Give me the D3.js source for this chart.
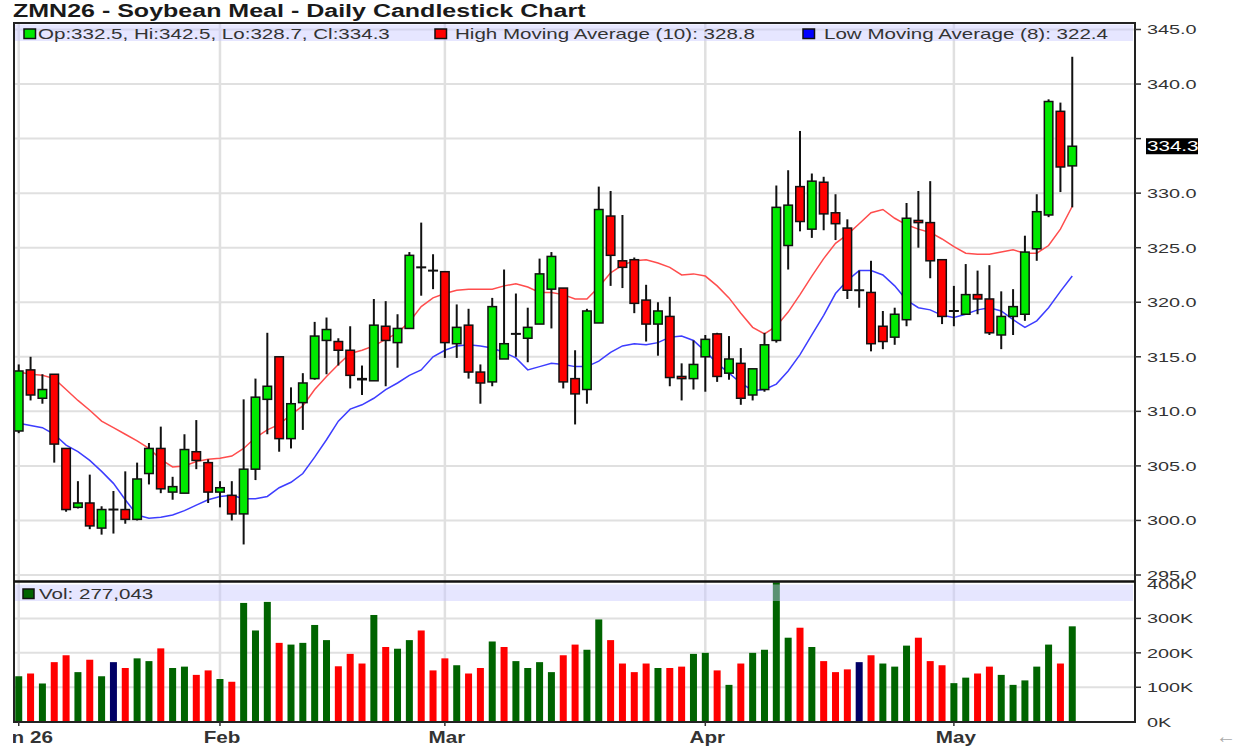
<!DOCTYPE html>
<html>
<head>
<meta charset="utf-8">
<script src="https://cdn.jsdelivr.net/npm/d3@7"></script>
<style>
  body { margin: 0; background: #fff; }
  svg  { display: block; font-family: "Liberation Sans", Arial, sans-serif; }
</style>
</head>
<body>
<div id="chart"></div>
<script>

// ---- data ---------------------------------------------------------------

var title = "ZMN26 - Soybean Meal - Daily Candlestick Chart";

var dates = [
  "2026-01-07","2026-01-08","2026-01-09","2026-01-12","2026-01-13","2026-01-14","2026-01-15","2026-01-16",
  "2026-01-20","2026-01-21","2026-01-22","2026-01-23","2026-01-26","2026-01-27","2026-01-28","2026-01-29","2026-01-30",
  "2026-02-02","2026-02-03","2026-02-04","2026-02-05","2026-02-06","2026-02-09","2026-02-10","2026-02-11","2026-02-12",
  "2026-02-13","2026-02-17","2026-02-18","2026-02-19","2026-02-20","2026-02-23","2026-02-24","2026-02-25","2026-02-26","2026-02-27",
  "2026-03-02","2026-03-03","2026-03-04","2026-03-05","2026-03-06","2026-03-09","2026-03-10","2026-03-11","2026-03-12","2026-03-13",
  "2026-03-16","2026-03-17","2026-03-18","2026-03-19","2026-03-20","2026-03-23","2026-03-24","2026-03-25","2026-03-26","2026-03-27",
  "2026-03-30","2026-03-31",
  "2026-04-01","2026-04-02","2026-04-06","2026-04-07","2026-04-08","2026-04-09","2026-04-10","2026-04-13","2026-04-14","2026-04-15",
  "2026-04-16","2026-04-17","2026-04-20","2026-04-21","2026-04-22","2026-04-23","2026-04-24","2026-04-27","2026-04-28","2026-04-29","2026-04-30",
  "2026-05-01","2026-05-04","2026-05-05","2026-05-06","2026-05-07","2026-05-08","2026-05-11","2026-05-12","2026-05-13","2026-05-14","2026-05-15"
];

var opens = [
  308.2,313.8,311.2,313.4,306.6,301.2,301.6,299.3,301.0,301.0,300.1,304.3,306.6,302.6,302.5,306.3,305.3,
  302.6,302.3,300.6,304.7,311.1,315.0,307.5,310.8,313.0,316.5,316.4,315.6,313.0,312.8,317.8,316.3,317.6,323.2,322.9,
  322.8,316.2,317.9,313.6,312.7,314.8,317.1,316.7,318.0,321.2,321.3,313.0,312.0,318.1,327.9,323.8,323.9,320.2,318.0,318.7,313.2,313.0,
  315.0,317.1,313.5,314.4,311.5,312.0,316.5,325.2,330.6,326.7,331.0,328.2,326.8,321.1,320.9,317.8,316.8,318.4,327.5,327.3,323.9,
  319.2,318.9,320.7,320.3,317.0,318.7,318.9,324.9,328.0,337.5,332.5
];
var highs = [
  314.3,315.0,313.4,313.4,306.6,303.6,304.2,301.3,302.7,304.5,305.3,307.1,308.6,304.0,307.9,309.2,305.6,
  303.6,303.6,311.1,313.0,317.2,315.0,312.2,313.5,318.2,318.6,316.7,317.8,314.2,320.3,320.1,318.9,324.6,327.3,324.4,
  322.8,319.8,319.4,314.3,320.4,323.0,320.8,319.5,324.0,324.6,321.3,315.6,319.4,330.6,330.2,328.0,324.1,321.6,320.0,320.5,314.4,316.5,
  317.0,317.2,316.9,315.8,313.9,317.2,330.7,332.1,335.7,331.8,331.5,329.9,327.6,322.9,323.8,319.2,319.5,329.1,330.2,331.1,323.9,
  321.5,323.5,322.9,323.4,321.0,321.2,326.1,329.9,338.6,338.3,342.5
];
var lows = [
  308.0,311.0,310.7,305.3,300.8,301.1,299.2,298.7,298.8,299.7,300.0,303.3,302.5,301.9,302.5,304.7,301.6,
  301.2,300.0,297.8,303.7,307.9,306.3,306.6,308.3,312.9,313.4,314.2,312.1,311.5,312.8,312.3,314.0,317.6,320.6,321.2,
  314.9,314.9,313.0,310.7,312.3,314.8,315.0,314.5,318.0,317.6,312.1,308.8,310.7,318.1,321.5,321.3,319.0,316.4,315.1,312.3,311.0,312.0,
  311.8,312.7,312.9,310.6,311.0,311.8,316.3,323.0,326.5,325.9,326.6,325.7,320.3,319.5,315.5,315.7,316.1,317.8,325.0,322.2,318.0,
  317.8,318.9,318.9,317.0,315.7,317.0,318.3,323.8,327.8,330.1,328.7
];
var closes = [
  313.7,311.5,312.0,307.0,301.0,301.6,299.5,301.0,301.0,300.1,303.8,306.6,302.9,303.1,306.5,305.5,302.6,
  303.0,300.6,304.7,311.3,312.3,307.5,310.7,312.6,316.9,317.5,315.6,313.3,312.9,317.9,316.5,317.6,324.3,323.2,322.9,
  316.3,317.7,313.6,312.6,319.6,316.2,317.1,317.7,322.6,324.2,312.7,311.6,319.2,328.5,324.3,323.2,319.9,318.0,319.2,313.1,313.0,314.3,
  316.6,313.2,314.8,311.2,313.9,316.1,328.7,328.9,327.4,331.1,328.1,327.2,321.1,321.1,316.2,316.4,318.9,327.7,327.3,323.8,318.7,
  319.2,320.7,320.3,317.2,318.7,319.6,324.6,328.3,338.4,332.4,334.3
];
// settlement of the session before the first bar (colours the first volume bar)
var priorClose = 312.9;

var volumes = [
  132000,140000,111000,173000,193000,144000,180000,132000,173000,156000,184000,176000,213000,156000,160000,136000,149000,
  124000,116000,345000,265000,348000,229000,224000,229000,281000,237000,161000,197000,169000,310000,217000,212000,237000,265000,149000,
  184000,164000,140000,156000,233000,217000,176000,156000,173000,144000,193000,224000,209000,297000,237000,169000,144000,169000,156000,156000,160000,197000,
  200000,149000,107000,169000,200000,209000,405000,244000,273000,217000,176000,144000,152000,173000,193000,169000,160000,221000,244000,176000,164000,
  112000,128000,140000,160000,136000,107000,120000,160000,224000,169000,277043
];

// High Moving Average (10) and Low Moving Average (8), as drawn
var highMA = [
  313.6,313.4,313.3,313.0,312.0,311.0,310.1,309.1,308.5,307.9,307.3,306.6,305.6,304.9,305.0,305.4,305.6,
  305.7,305.9,306.6,307.6,308.3,308.8,309.7,310.5,312.0,313.2,314.3,315.3,315.6,316.0,316.6,317.2,318.2,319.6,320.4,
  320.8,321.1,321.2,321.2,321.2,321.5,321.7,321.4,320.9,320.9,320.7,320.3,320.3,321.4,322.7,323.4,323.8,323.9,323.6,323.2,322.5,322.6,
  322.4,321.5,320.4,319.0,317.7,317.1,317.8,319.1,320.7,322.4,324.0,325.4,326.2,327.2,328.2,328.5,327.7,327.1,326.7,326.4,325.8,
  325.1,324.5,324.4,324.4,324.6,324.8,324.5,324.5,325.2,326.7,328.8
];
var lowMA = [
  308.9,308.7,308.5,307.9,306.9,306.3,305.5,304.5,303.4,301.9,300.5,300.2,300.3,300.5,300.9,301.4,301.9,
  302.2,302.3,302.0,302.0,302.2,303.0,303.5,304.3,305.8,307.4,309.1,310.2,310.6,311.2,312.0,312.6,313.3,313.8,315.0,
  315.6,316.0,316.1,316.0,315.8,315.4,314.9,313.8,314.1,314.4,314.3,314.1,314.1,314.6,315.4,316.0,316.2,316.1,316.3,316.8,316.9,316.5,
  315.5,314.4,313.5,312.6,311.9,312.0,312.5,313.7,315.2,317.0,318.8,320.8,322.0,322.9,322.9,322.5,321.5,320.2,319.5,319.3,318.8,
  318.6,318.9,319.3,319.5,319.2,318.4,317.7,318.3,319.5,321.0,322.4
];

var priceTicks  = [295, 300, 305, 310, 315, 320, 325, 330, 335, 340, 345];
var volumeTicks = [0, 100000, 200000, 300000, 400000];
var monthLabels = ["Jan 26", "Feb", "Mar", "Apr", "May"];


// ---- layout ---------------------------------------------------------------

var W = 1237, H = 749;
var plotL = 14, plotR = 1135;
var plotT = 23, priceB = 581, volT = 582, volB = 722;

var GREEN = "#00e800", RED = "#ff0000";
var VOL_UP = "#006400", VOL_DN = "#ff0000", VOL_EQ = "#000066";
var GRID = "#e0e0e0", INK = "#333";

// the reference is a horizontally stretched screenshot, so text is widened
var TITLE_SX = 1.39, LEGEND_SX = 1.37, AXIS_SX = 1.47, XLAB_SX = 1.29;

var n = dates.length;
var idx = d3.range(n);

var x = d3.scaleLinear().domain([-0.4, 94.3]).range([plotL, plotR]);
var yPrice = d3.scaleLinear().domain([295, 345]).range([575, 29.5]);
var yVol = d3.scaleLinear().domain([0, 400000]).range([721.7, 584]);
var fmtPrice = d3.format(".1f");

// first bar of each month carries a tick
var monthStarts = idx.filter(function(i) {
    return i === 0 || dates[i].slice(5, 7) !== dates[i - 1].slice(5, 7);
});

var svg = d3.select("#chart").append("svg")
    .attr("width", W)
    .attr("height", H);

svg.append("rect").attr("width", W).attr("height", H).attr("fill", "#fff");

var defs = svg.append("defs");
defs.append("clipPath").attr("id", "clipPrice").append("rect")
    .attr("x", plotL).attr("y", plotT).attr("width", plotR - plotL).attr("height", priceB - plotT);
defs.append("clipPath").attr("id", "clipVol").append("rect")
    .attr("x", plotL).attr("y", volT).attr("width", plotR - plotL).attr("height", volB - volT);
defs.append("clipPath").attr("id", "clipXLab").append("rect")
    .attr("x", plotL - 1).attr("y", volB).attr("width", W).attr("height", H - volB);

// stretched text helper
function label(g, px, py, str, sx, size, opts) {
    opts = opts || {};
    return g.append("text")
        .attr("transform", "translate(" + px + "," + py + ") scale(" + sx + ",1)")
        .attr("font-size", size)
        .attr("font-weight", opts.bold ? "bold" : "normal")
        .attr("text-anchor", opts.anchor || "start")
        .attr("fill", opts.fill || INK)
        .text(str);
}

// ---- grid -----------------------------------------------------------------

svg.append("g").selectAll("line").data(priceTicks).join("line")
    .attr("x1", plotL).attr("x2", plotR)
    .attr("y1", function(d) { return yPrice(d); })
    .attr("y2", function(d) { return yPrice(d); })
    .attr("stroke", GRID).attr("stroke-width", 2);

svg.append("g").selectAll("line").data(volumeTicks.slice(1, 4)).join("line")
    .attr("x1", plotL).attr("x2", plotR)
    .attr("y1", function(d) { return yVol(d); })
    .attr("y2", function(d) { return yVol(d); })
    .attr("stroke", GRID).attr("stroke-width", 2);

svg.append("g").selectAll("line").data(monthStarts).join("line")
    .attr("x1", function(i) { return x(i); })
    .attr("x2", function(i) { return x(i); })
    .attr("y1", plotT).attr("y2", volB)
    .attr("stroke", GRID).attr("stroke-width", 2.5);

// ---- price panel ------------------------------------------------------------

var pricePanel = svg.append("g").attr("clip-path", "url(#clipPrice)");

var maLine = d3.line()
    .x(function(d, i) { return x(i); })
    .y(function(d) { return yPrice(d); });

pricePanel.append("path").datum(highMA)
    .attr("d", maLine).attr("fill", "none")
    .attr("stroke", "#ff4d4d").attr("stroke-width", 1.5);

pricePanel.append("path").datum(lowMA)
    .attr("d", maLine).attr("fill", "none")
    .attr("stroke", "#3d3dff").attr("stroke-width", 1.5);

var candles = pricePanel.append("g").selectAll("g").data(idx).join("g");

candles.append("line")
    .attr("x1", function(i) { return x(i); })
    .attr("x2", function(i) { return x(i); })
    .attr("y1", function(i) { return yPrice(highs[i]); })
    .attr("y2", function(i) { return yPrice(lows[i]); })
    .attr("stroke", "#111").attr("stroke-width", 2);

var bodyW = 8.5;

candles.filter(function(i) { return opens[i] !== closes[i]; })
    .append("rect")
    .attr("x", function(i) { return x(i) - bodyW / 2; })
    .attr("width", bodyW)
    .attr("y", function(i) { return yPrice(Math.max(opens[i], closes[i])); })
    .attr("height", function(i) {
        return Math.max(1, Math.abs(yPrice(opens[i]) - yPrice(closes[i])));
    })
    .attr("fill", function(i) { return closes[i] > opens[i] ? GREEN : RED; })
    .attr("stroke", "#111").attr("stroke-width", 1.5);

// doji: open equals close
candles.filter(function(i) { return opens[i] === closes[i]; })
    .append("line")
    .attr("x1", function(i) { return x(i) - bodyW / 2 - 0.75; })
    .attr("x2", function(i) { return x(i) + bodyW / 2 + 0.75; })
    .attr("y1", function(i) { return yPrice(closes[i]); })
    .attr("y2", function(i) { return yPrice(closes[i]); })
    .attr("stroke", "#111").attr("stroke-width", 2);

// ---- volume panel -----------------------------------------------------------

var volPanel = svg.append("g").attr("clip-path", "url(#clipVol)");

function volColor(i) {
    var prev = i === 0 ? priorClose : closes[i - 1];
    if (closes[i] > prev) return VOL_UP;
    if (closes[i] < prev) return VOL_DN;
    return VOL_EQ;
}

var volW = 7;
volPanel.append("g").selectAll("rect").data(idx).join("rect")
    .attr("x", function(i) { return x(i) - volW / 2; })
    .attr("width", volW)
    .attr("y", function(i) { return yVol(volumes[i]); })
    .attr("height", function(i) { return yVol(0) - yVol(volumes[i]); })
    .attr("fill", volColor);

// ---- legends (translucent bands over the plot) --------------------------------

var last = n - 1;

svg.append("rect")
    .attr("x", plotL + 1).attr("y", 24.5).attr("width", 1118).attr("height", 16.5)
    .attr("fill", "rgb(200,200,255)").attr("fill-opacity", 0.45);

svg.append("rect")
    .attr("x", plotL + 1).attr("y", 584.5).attr("width", 1118).attr("height", 16.5)
    .attr("fill", "rgb(200,200,255)").attr("fill-opacity", 0.45);

var legend = svg.append("g");

var legendItems = [
    { box: GREEN, bx: 24, tx: 38,
      text: "Op:" + fmtPrice(opens[last]) + ", Hi:" + fmtPrice(highs[last]) +
            ", Lo:" + fmtPrice(lows[last]) + ", Cl:" + fmtPrice(closes[last]) },
    { box: RED, bx: 435, tx: 455,
      text: "High Moving Average (10): " + fmtPrice(highMA[last]) },
    { box: "#0000ff", bx: 803, tx: 824,
      text: "Low Moving Average (8): " + fmtPrice(lowMA[last]) }
];

legendItems.forEach(function(d) {
    legend.append("rect")
        .attr("x", d.bx).attr("y", 29).attr("width", 11.5).attr("height", 9.5)
        .attr("fill", d.box).attr("stroke", "#111").attr("stroke-width", 1.5);
    label(legend, d.tx, 38.5, d.text, LEGEND_SX, 15);
});

legend.append("rect")
    .attr("x", 23).attr("y", 589).attr("width", 11).attr("height", 9.5)
    .attr("fill", VOL_UP).attr("stroke", "#111").attr("stroke-width", 1.5);
label(legend, 39, 598.5, "Vol: " + d3.format(",")(volumes[last]), LEGEND_SX, 15);

// ---- frame ------------------------------------------------------------------

svg.append("rect")
    .attr("x", plotL).attr("y", plotT)
    .attr("width", plotR - plotL).attr("height", volB - plotT)
    .attr("fill", "none").attr("stroke", "#222").attr("stroke-width", 2);

svg.append("line")
    .attr("x1", plotL).attr("x2", plotR)
    .attr("y1", priceB + 0.5).attr("y2", priceB + 0.5)
    .attr("stroke", "#111").attr("stroke-width", 2.5);

// ---- right axes -------------------------------------------------------------

var axes = svg.append("g");
var yLast = yPrice(closes[last]);

axes.selectAll("line.pt").data(priceTicks).join("line")
    .attr("class", "pt")
    .attr("x1", plotR).attr("x2", plotR + 6)
    .attr("y1", function(d) { return yPrice(d); })
    .attr("y2", function(d) { return yPrice(d); })
    .attr("stroke", INK).attr("stroke-width", 1.5);

// labels that would sit under the last-price marker are left out
priceTicks.forEach(function(d) {
    if (Math.abs(yPrice(d) - yLast) < 12) return;
    label(axes, 1147, yPrice(d) + 4.8, fmtPrice(d), AXIS_SX, 13.5);
});

axes.selectAll("line.vt").data(volumeTicks.slice(1, 4)).join("line")
    .attr("class", "vt")
    .attr("x1", plotR).attr("x2", plotR + 6)
    .attr("y1", function(d) { return yVol(d); })
    .attr("y2", function(d) { return yVol(d); })
    .attr("stroke", INK).attr("stroke-width", 1.5);

volumeTicks.forEach(function(d) {
    label(axes, 1147, yVol(d) + 4.8, d / 1000 + "K", AXIS_SX, 13.5);
});

// last price marker
axes.append("rect")
    .attr("x", 1146).attr("y", yLast - 8).attr("width", 52).attr("height", 16)
    .attr("fill", "#000");
label(axes, 1147, yLast + 5, fmtPrice(closes[last]), AXIS_SX, 14, { fill: "#fff" });

// ---- month axis ---------------------------------------------------------------

var xAxis = svg.append("g");

xAxis.selectAll("line").data(monthStarts).join("line")
    .attr("x1", function(i) { return x(i); })
    .attr("x2", function(i) { return x(i); })
    .attr("y1", volB).attr("y2", volB + 4)
    .attr("stroke", INK).attr("stroke-width", 1.5);

var xLabels = xAxis.append("g").attr("clip-path", "url(#clipXLab)");
monthStarts.forEach(function(i, k) {
    label(xLabels, x(i) + 2, 743, monthLabels[k], XLAB_SX, 16, { bold: true, anchor: "middle" });
});

// ---- title and page furniture -------------------------------------------------

label(svg, 13, 17, title, TITLE_SX, 18, { bold: true, fill: "#1a1a1a" });

svg.append("text")
    .attr("x", 1226).attr("y", 743)
    .attr("text-anchor", "middle")
    .attr("font-size", 20)
    .attr("fill", "#aaa")
    .text("\u2190");

</script>
</body>
</html>
